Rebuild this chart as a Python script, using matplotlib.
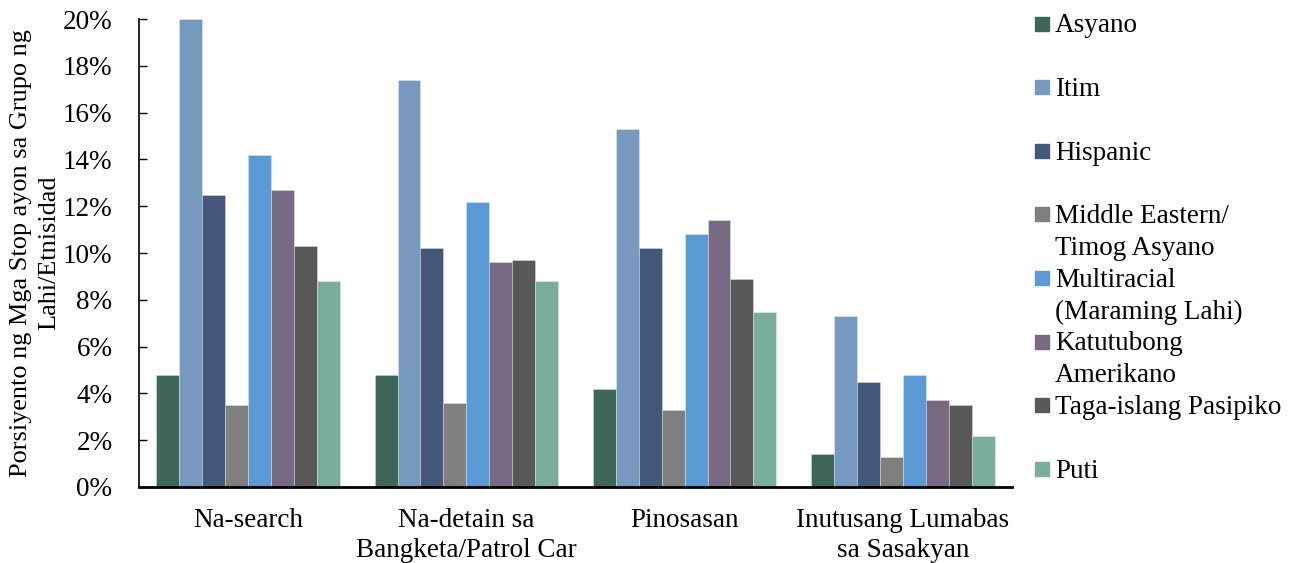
import matplotlib.pyplot as plt
import matplotlib.patches as mpatches
import numpy as np

plt.rcParams['font.family'] = ['Liberation Serif', 'DejaVu Serif']

# datos
categorias = ['Na-search', 'Na-detain sa\nBangketa/Patrol Car', 'Pinosasan',
              'Inutusang Lumabas\nsa Sasakyan']
grupos = ['Asyano', 'Itim', 'Hispanic', 'Middle Eastern/\nTimog Asyano',
          'Multiracial\n(Maraming Lahi)', 'Katutubong\nAmerikano',
          'Taga-islang Pasipiko', 'Puti']
asyano = [4.8, 4.8, 4.2, 1.4]
itim = [20.0, 17.4, 15.3, 7.3]
hispanic = [12.5, 10.2, 10.2, 4.5]
middle_eastern = [3.5, 3.6, 3.3, 1.3]
multiracial = [14.2, 12.2, 10.8, 4.8]
katutubong = [12.7, 9.6, 11.4, 3.7]
pasipiko = [10.3, 9.7, 8.9, 3.5]
puti = [8.8, 8.8, 7.5, 2.2]
valores = [asyano, itim, hispanic, middle_eastern, multiracial, katutubong, pasipiko, puti]
colores = ['#3e6757', '#7799c0', '#44587c', '#7f7f7f', '#5b9ad5', '#786a82', '#595959', '#7aae9a']

FS = 19.5

fig = plt.figure(figsize=(12.98, 5.63), dpi=100)
ax = fig.add_axes([0.107, 0.135, 0.6727, 0.831])

x = np.arange(len(categorias))
ancho = 0.105
n = len(grupos)
for i, (vals, col) in enumerate(zip(valores, colores)):
    ax.bar(x + (i - (n - 1) / 2) * ancho, vals, ancho, color=col,
           edgecolor=(1, 1, 1, 0.35), linewidth=0.6)

ax.set_xlim(-0.5, len(categorias) - 0.5)
ax.set_ylim(0, 20)
ax.set_yticks(np.arange(0, 21, 2))
ax.set_yticklabels([f'{v}%' for v in range(0, 21, 2)])
ax.set_xticks(x)
ax.set_xticklabels(categorias)
ax.tick_params(axis='y', direction='in', length=6, width=1, pad=19, labelsize=FS)
ax.tick_params(axis='x', length=0, pad=15, labelsize=FS)
for lbl in ax.get_xticklabels():
    lbl.set_linespacing(1.25)

ax.spines['top'].set_visible(False)
ax.spines['right'].set_visible(False)
ax.spines['left'].set_linewidth(1.2)
ax.spines['bottom'].set_linewidth(2)

ax.set_ylabel('Porsiyento ng Mga Stop ayon sa Grupo ng\nLahi/Etnisidad', fontsize=18.9,
              labelpad=2, linespacing=1.35)

# leyenda manual (estilo Excel)
W, H = 1298, 563
y_px = 23.5
paso = 63.6
for nombre, col in zip(grupos, colores):
    fig.patches.append(mpatches.Rectangle((1035 / W, 1 - (y_px + 7) / H), 14 / W, 14 / H,
                                          transform=fig.transFigure, color=col))
    for j, linea in enumerate(nombre.split('\n')):
        fig.text(1055 / W, 1 - (y_px + 9 + j * 32) / H, linea, fontsize=FS,
                 va='baseline', ha='left')
    y_px += paso

fig.savefig('out.png', dpi=100)
